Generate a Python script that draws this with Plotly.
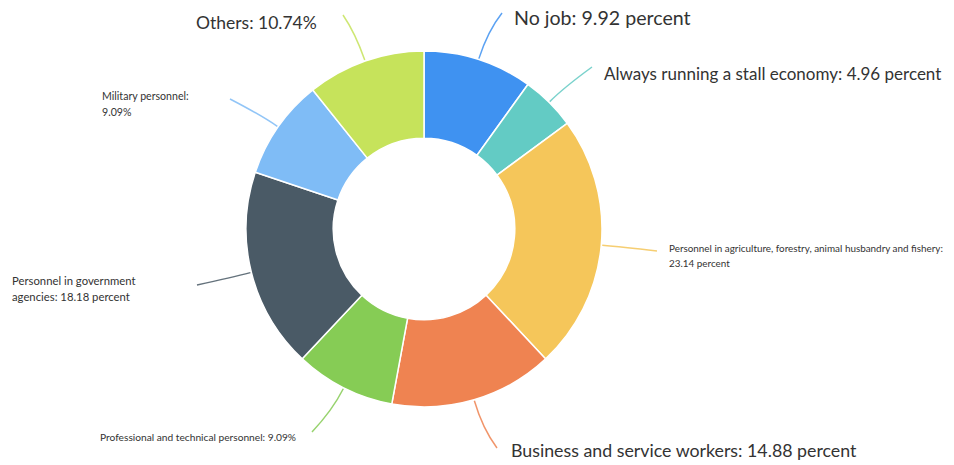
import math
import plotly.graph_objects as go

# Occupation shares (percent), clockwise from 12 o'clock
categories = [
    "No job",
    "Always running a stall economy",
    "Personnel in agriculture, forestry, animal husbandry and fishery",
    "Business and service workers",
    "Professional and technical personnel",
    "Personnel in government agencies",
    "Military personnel",
    "Others",
]
shares = [9.92, 4.96, 23.14, 14.88, 9.09, 18.18, 9.09, 10.74]

# Label text: name part (with line breaks) and unit wording
label_heads = [
    "No job: ",
    "Always running a stall economy: ",
    "Personnel in agriculture, forestry, animal husbandry and fishery:<br>",
    "Business and service workers: ",
    "Professional and technical personnel: ",
    "Personnel in government<br>agencies: ",
    "Military personnel:<br>",
    "Others: ",
]
label_units = [" percent", " percent", " percent", " percent", "%", " percent", "%", "%"]

colors = ["#3f92f1", "#63cbc4", "#f5c65a", "#ef8351", "#86cc55", "#4a5a66", "#7fbcf6", "#c6e35b"]

W, H = 954, 465
CX, CY, R = 424, 229, 178
HOLE = 0.51

# Label placement in pixels: (anchor x, first-line y, xanchor, font size, line gap, line bend, line end)
label_style = [
    dict(x=512, y=17, xa="left", size=19.6, gap=0, bend=30, end=(502, 13)),
    dict(x=602, y=73, xa="left", size=17, gap=0, bend=20, end=(592, 67)),
    dict(x=667, y=248, xa="left", size=9.9, gap=15, bend=20, end=(657, 251)),
    dict(x=509, y=450, xa="left", size=17.8, gap=0, bend=30, end=(497, 448)),
    dict(x=298, y=437, xa="right", size=10.2, gap=0, bend=25, end=(312, 432)),
    dict(x=10, y=280, xa="left", size=11.3, gap=16, bend=20, end=(197, 285)),
    dict(x=100, y=96, xa="left", size=10.6, gap=16, bend=20, end=(230, 99)),
    dict(x=319, y=22, xa="right", size=17.5, gap=0, bend=30, end=(343, 15)),
]


def px(x):
    return x / W


def py(y):
    return 1 - y / H


fig = go.Figure(
    go.Pie(
        labels=categories,
        values=shares,
        sort=False,
        direction="clockwise",
        rotation=0,
        hole=HOLE,
        marker=dict(colors=colors, line=dict(color="white", width=1.5)),
        textinfo="none",
        hoverinfo="label+percent",
        domain=dict(x=[px(CX - R), px(CX + R)], y=[py(CY + R), py(CY - R)]),
        showlegend=False,
    )
)

annotations = []
shapes = []
total = sum(shares)
cum = 0.0
for i, v in enumerate(shares):
    mid = (cum + v / 2) / total * 2 * math.pi
    cum += v
    st = label_style[i]
    # leader line: leaves the ring radially at the slice middle, then bends to the label
    x0, y0 = CX + (R + 1) * math.sin(mid), CY - (R + 1) * math.cos(mid)
    rc = R + st["bend"]
    xc, yc = CX + rc * math.sin(mid), CY - rc * math.cos(mid)
    x1, y1 = st["end"]
    path = "M {:.5f} {:.5f} Q {:.5f} {:.5f} {:.5f} {:.5f}".format(
        px(x0), py(y0), px(xc), py(yc), px(x1), py(y1)
    )
    shapes.append(
        dict(type="path", path=path, xref="paper", yref="paper",
             line=dict(color=colors[i], width=1.5), opacity=0.85)
    )
    text = "{}{:.2f}{}".format(label_heads[i], v, label_units[i])
    for k, line in enumerate(text.split("<br>")):
        annotations.append(
            dict(
                text=line,
                x=px(st["x"]),
                y=py(st["y"] + k * st["gap"]),
                xref="paper",
                yref="paper",
                xanchor=st["xa"],
                yanchor="middle",
                showarrow=False,
                font=dict(size=st["size"], color="#333333", family="Lato"),
            )
        )

fig.update_layout(
    width=W,
    height=H,
    margin=dict(l=0, r=0, t=0, b=0),
    paper_bgcolor="white",
    plot_bgcolor="white",
    annotations=annotations,
    shapes=shapes,
)

fig.write_html("out.html")
